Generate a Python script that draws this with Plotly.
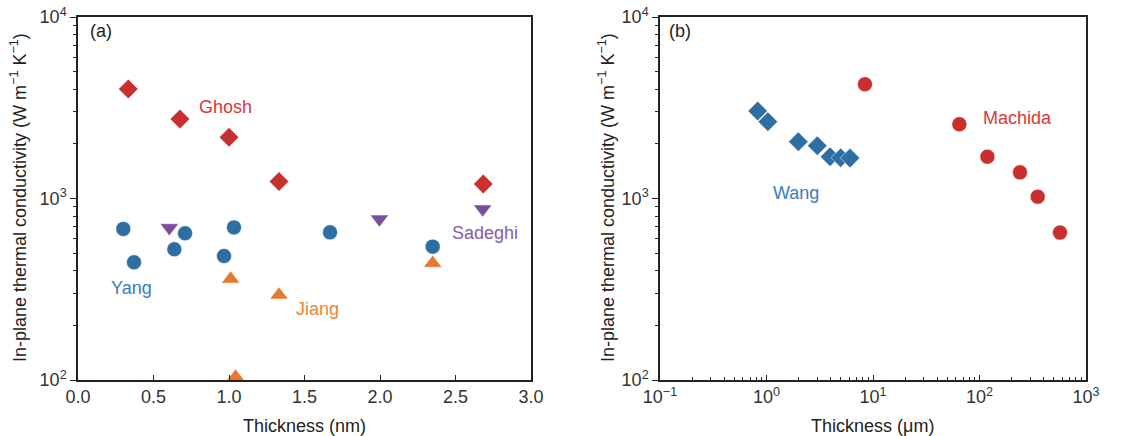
import plotly.graph_objects as go

# ---- Panel (a): monolayer / few-layer data, thickness in nm ----
ghosh_x = [0.333, 0.675, 1.0, 1.331, 2.684]
ghosh_y = [4010, 2740, 2175, 1240, 1202]

yang_x = [0.300, 0.371, 0.638, 0.709, 0.967, 1.033, 1.669, 2.349]
yang_y = [680, 445, 525, 643, 482, 693, 651, 543]

sadeghi_x = [0.605, 1.996, 2.680]
sadeghi_y = [690, 770, 875]

jiang_x = [1.011, 1.331, 2.349, 1.044]
jiang_y = [360, 294, 440, 104]

# ---- Panel (b): bulk-like samples, thickness in um ----
wang_x = [0.826, 1.03, 1.99, 3.0, 3.95, 4.97, 6.08]
wang_y = [3035, 2650, 2057, 1953, 1699, 1678, 1670]

machida_x = [8.4, 64.7, 118.7, 240, 352, 570]
machida_y = [4257, 2564, 1699, 1393, 1023, 649]

y_ticks = [100, 1000, 10000]
y_ticktext = ["10<sup>2</sup>", "10<sup>3</sup>", "10<sup>4</sup>"]
xb_ticks = [0.1, 1, 10, 100, 1000]
xb_ticktext = ["10<sup>\u22121</sup>", "10<sup>0</sup>", "10<sup>1</sup>",
               "10<sup>2</sup>", "10<sup>3</sup>"]
xa_ticks = [0.0, 0.5, 1.0, 1.5, 2.0, 2.5, 3.0]
xa_ticktext = ["0.0", "0.5", "1.0", "1.5", "2.0", "2.5", "3.0"]

RED = "#c8302f"
BLUE = "#2f6ea3"
ORANGE = "#e8782f"
PURPLE = "#7b4e9c"
AXC = "#222222"
FONT = "Liberation Sans"
FS = 18

minor_log = [m * 10 ** e for e in range(-1, 4) for m in range(2, 10)]

fig = go.Figure()

def add(x, y, color, symbol, size, xa, ya):
    fig.add_trace(go.Scatter(
        x=x, y=y, mode="markers", xaxis=xa, yaxis=ya, showlegend=False,
        marker=dict(color=color, symbol=symbol, size=size,
                    line=dict(width=1, color="rgba(255,255,255,0.5)")),
    ))

add(ghosh_x, ghosh_y, RED, "diamond", 15, "x", "y")
add(yang_x, yang_y, BLUE, "circle", 15, "x", "y")
add(sadeghi_x, sadeghi_y, PURPLE, "triangle-down", 16, "x", "y")
add(jiang_x, jiang_y, ORANGE, "triangle-up", 16, "x", "y")
add(wang_x, wang_y, BLUE, "diamond", 15, "x2", "y2")
add(machida_x, machida_y, RED, "circle", 15, "x2", "y2")

W, H = 1137, 436
ydom = [1 - 380 / H, 1 - 17 / H]

common_axis = dict(
    showline=True, linecolor=AXC, linewidth=1.5, mirror=True,
    showgrid=False, zeroline=False, automargin=False,
    tickfont=dict(family=FONT, size=FS, color="#333333"),
    tickcolor=AXC, tickwidth=1.2,
)

fig.update_layout(
    template="none",
    width=W, height=H,
    margin=dict(l=0, r=0, t=0, b=0, pad=0, autoexpand=False),
    paper_bgcolor="white", plot_bgcolor="white",
    font=dict(family=FONT, size=FS, color="#333333"),
    xaxis=dict(common_axis, domain=[78 / W, 531 / W], range=[0, 3],
               tickvals=xa_ticks, ticktext=xa_ticktext,
               ticks="inside", ticklen=5, anchor="y"),
    yaxis=dict(common_axis, domain=ydom, type="log", range=[2, 4],
               tickvals=y_ticks, ticktext=y_ticktext,
               ticks="outside", ticklen=6, anchor="x",
               minor=dict(tickvals=minor_log, ticks="outside", ticklen=3,
                          tickcolor=AXC, showgrid=False)),
    xaxis2=dict(common_axis, domain=[660 / W, 1086 / W], type="log",
                range=[-1, 3], tickvals=xb_ticks, ticktext=xb_ticktext,
                ticks="inside", ticklen=5, anchor="y2",
                minor=dict(tickvals=minor_log, ticks="inside", ticklen=3,
                           tickcolor=AXC, showgrid=False)),
    yaxis2=dict(common_axis, domain=ydom, type="log", range=[2, 4],
                tickvals=y_ticks, ticktext=y_ticktext,
                ticks="outside", ticklen=6, anchor="x2",
                minor=dict(tickvals=minor_log, ticks="outside", ticklen=3,
                           tickcolor=AXC, showgrid=False)),
)

ann = []
def label(text, x, y, color, xref, yref, angle=0):
    ann.append(dict(text=text, x=x, y=y, xref=xref, yref=yref,
                    xanchor="center", yanchor="middle", textangle=angle,
                    showarrow=False, font=dict(family=FONT, size=FS, color=color)))

label("Ghosh", 0.978, 3.504, "#d9363a", "x", "y")
label("Yang", 0.356, 2.509, "#3a7dba", "x", "y")
label("Jiang", 1.583, 2.393, "#ee8436", "x", "y")
label("Sadeghi", 2.695, 2.808, "#8a5aa8", "x", "y")
label("Wang", 0.277, 3.032, "#3a7dba", "x2", "y2")
label("Machida", 2.359, 3.442, "#d9363a", "x2", "y2")

label("(a)", 101 / W, 1 - 31 / H, "#222222", "paper", "paper")
label("(b)", 680 / W, 1 - 31 / H, "#222222", "paper", "paper")

ytitle = "In-plane thermal conductivity (W m<sup>\u22121</sup> K<sup>\u22121</sup>)"
for xpix in (18, 606):
    label(ytitle, xpix / W, 1 - 198 / H, "#222222", "paper", "paper", angle=-90)
label("Thickness (nm)", (78 + 531) / 2 / W, 1 - 426 / H, "#222222", "paper", "paper")
label("Thickness (\u03bcm)", (660 + 1086) / 2 / W, 1 - 426 / H, "#222222", "paper", "paper")

fig.update_layout(annotations=ann)
fig.write_html("out.html")
